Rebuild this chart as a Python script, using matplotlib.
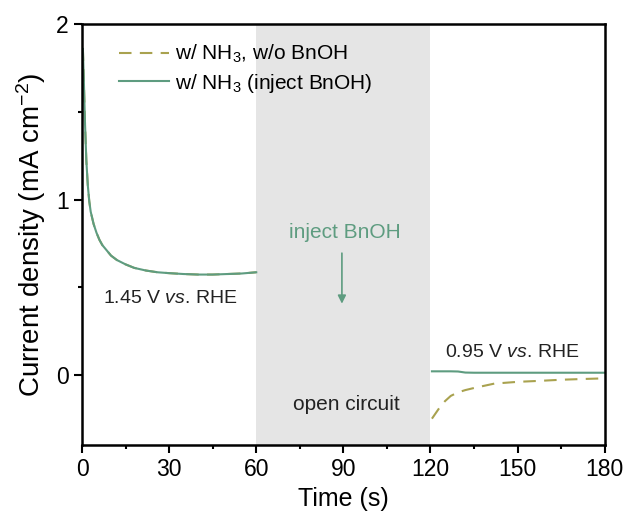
import matplotlib
matplotlib.use("Agg")
from matplotlib import pyplot as plt

plt.rcParams['font.family'] = ['Liberation Sans', 'DejaVu Sans']
plt.rcParams['mathtext.fontset'] = 'custom'
plt.rcParams['mathtext.rm'] = 'Liberation Sans'
plt.rcParams['mathtext.it'] = 'Liberation Sans:italic'

# first segment (1.45 V), both runs overlap
t1 = [0, 0.3, 0.6, 1.0, 1.5, 2, 2.5, 3, 4, 5, 6, 7, 8, 10, 12, 15, 18, 22, 26, 30,
      35, 40, 45, 50, 55, 60]
j1 = [1.62, 1.86, 1.7, 1.45, 1.22, 1.08, 0.99, 0.93, 0.86, 0.81, 0.77, 0.74, 0.72, 0.68,
      0.655, 0.63, 0.61, 0.595, 0.585, 0.58, 0.575, 0.572, 0.572, 0.575, 0.578, 0.585]

# second segment (0.95 V)
t2 = [120.5, 123, 125, 127, 129.5, 132, 135, 142, 150, 158, 165, 172, 180]
j2_dash = [-0.25, -0.19, -0.15, -0.12, -0.1, -0.087, -0.075, -0.05, -0.04, -0.034,
           -0.028, -0.024, -0.02]
j2_solid = [0.02, 0.02, 0.02, 0.02, 0.019, 0.013, 0.012, 0.012, 0.012, 0.012, 0.012,
            0.012, 0.012]

green = '#5e9c80'
olive = '#a9a24f'

fig = plt.figure(figsize=(6.26, 5.15), dpi=100)
ax = fig.add_axes([0.131, 0.136, 0.835, 0.817])

ax.axvspan(60, 120, color='#e5e5e5', lw=0, zorder=0)

ax.plot(t1, j1, ls=(0, (6, 4)), color=olive, lw=1.5, label='w/ NH$_3$, w/o BnOH')
ax.plot(t2, j2_dash, ls=(0, (6, 4)), color=olive, lw=1.5)
ax.plot(t1, j1, ls='-', color=green, lw=1.5, label='w/ NH$_3$ (inject BnOH)')
ax.plot(t2, j2_solid, ls='-', color=green, lw=1.5)

ax.text(90.5, 0.81, 'inject BnOH', color=green, fontsize=15, ha='center', va='center')
ax.annotate('', xy=(89.5, 0.39), xytext=(89.5, 0.71),
            arrowprops=dict(arrowstyle='-|>', color=green, lw=1.2, mutation_scale=12))
ax.text(30.3, 0.435, '1.45 V $\\it{vs}$. RHE', fontsize=14, ha='center', va='center', color='#222222')
ax.text(91, -0.17, 'open circuit', fontsize=15, ha='center', va='center', color='#222222')
ax.text(148, 0.125, '0.95 V $\\it{vs}$. RHE', fontsize=14, ha='center', va='center', color='#222222')

ax.set_xlim(0, 180)
ax.set_ylim(-0.4, 2.0)
ax.set_xticks([0, 30, 60, 90, 120, 150, 180])
ax.set_xticks([15, 45, 75, 105, 135, 165], minor=True)
ax.set_yticks([0, 1, 2])
ax.set_yticks([0.5, 1.5], minor=True)
ax.tick_params(which='major', direction='out', length=6, width=1.5, labelsize=16.5)
ax.tick_params(which='minor', direction='out', length=3, width=1.5)
for s in ax.spines.values():
    s.set_linewidth(1.8)

ax.set_xlabel('Time (s)', fontsize=18)
ax.set_ylabel('Current density (mA cm$^{\\mathregular{-2}}$)', fontsize=20, labelpad=6)

ax.legend(loc='upper left', bbox_to_anchor=(0.035, 1.0), frameon=False, fontsize=15,
          handlelength=2.4, handletextpad=0.3, labelspacing=0.3)

fig.savefig('out.png', dpi=100)
